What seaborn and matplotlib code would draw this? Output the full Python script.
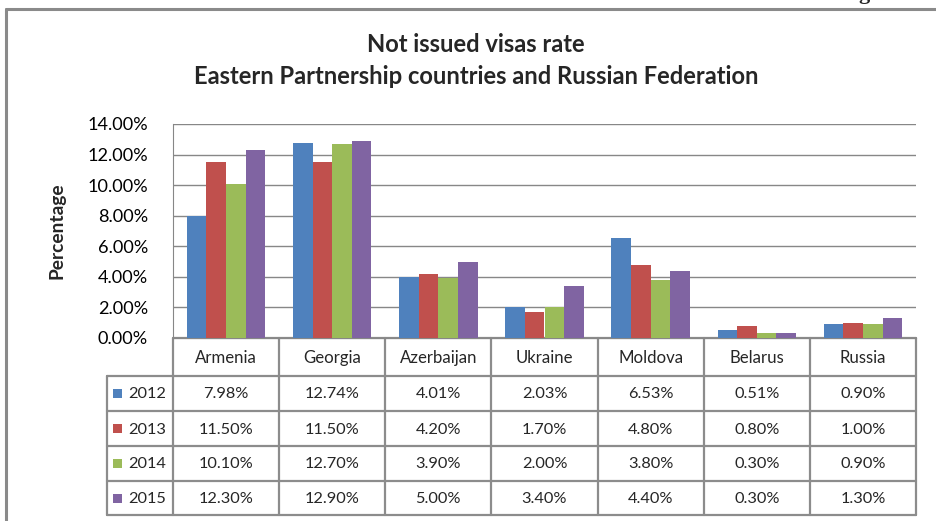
import matplotlib
matplotlib.use("Agg")
import matplotlib.pyplot as plt
import seaborn as sns
import pandas as pd

categories = ["Armenia", "Georgia", "Azerbaijan", "Ukraine", "Moldova", "Belarus", "Russia"]
years = ["2012", "2013", "2014", "2015"]
v2012 = [7.98, 12.74, 4.01, 2.03, 6.53, 0.51, 0.90]
v2013 = [11.50, 11.50, 4.20, 1.70, 4.80, 0.80, 1.00]
v2014 = [10.10, 12.70, 3.90, 2.00, 3.80, 0.30, 0.90]
v2015 = [12.30, 12.90, 5.00, 3.40, 4.40, 0.30, 1.30]
yticks = [0, 2, 4, 6, 8, 10, 12, 14]
colors = ["#4F81BD", "#C0504D", "#9BBB59", "#8064A2"]
title1 = "Not issued visas rate"
title2 = "Eastern Partnership countries and Russian Federation"

series = [v2012, v2013, v2014, v2015]
df = pd.DataFrame({
    "Country": categories * 4,
    "Year": [y for y in years for _ in categories],
    "Value": v2012 + v2013 + v2014 + v2015,
})

sns.set_style("white")
plt.rcParams["font.family"] = ["Lato", "DejaVu Sans"]

W, H = 936, 521
fig = plt.figure(figsize=(W / 100, H / 100), dpi=100)
fig.canvas.draw()
renderer = fig.canvas.get_renderer()


def fit_size(s, target_px, **kw):
    t = fig.text(0, 0, s, fontsize=10, **kw)
    w = t.get_window_extent(renderer).width
    t.remove()
    return 10 * target_px / w


fs_tick = fit_size("14.00%", 61)
fs_cell = fit_size("12.74%", 55)
fs_cat = fit_size("Armenia", 62)
fs_ylab = fit_size("Percentage", 97, fontweight="bold")
fs_title = fit_size(title2, 567, fontweight="bold")

# plot area in pixels
L, R, T, B = 173, 916, 124, 338
ax = fig.add_axes([L / W, 1 - B / H, (R - L) / W, (B - T) / H])
sns.barplot(data=df, x="Country", y="Value", hue="Year", palette=colors,
            width=0.74, ax=ax, legend=False, saturation=1, zorder=3,
            edgecolor="none", errorbar=None)
ax.set_xlim(-0.5, len(categories) - 0.5)
ax.set_ylim(0, 14)
ax.set_yticks(yticks)
ax.set_yticklabels([f"{t:.2f}%" for t in yticks], fontsize=fs_tick, color="black")
ax.tick_params(axis="y", length=0, pad=18)
ax.set_xticks([])
ax.set_xlabel("")
ax.set_ylabel("")
ax.yaxis.grid(True, color="#878787", lw=1)
ax.set_axisbelow(True)
for s in ["top", "right"]:
    ax.spines[s].set_visible(False)
ax.spines["left"].set_color("#878787")
ax.spines["bottom"].set_color("#878787")
ax.patch.set_alpha(0)

fig.text(57 / W, 1 - 231 / H, "Percentage", rotation=90, ha="center", va="center",
         fontsize=fs_ylab, fontweight="bold")

fig.canvas.draw()

# overlay for table and border
ov = fig.add_axes([0, 0, 1, 1], zorder=-1)
ov.set_xlim(0, W)
ov.set_ylim(H, 0)
ov.axis("off")


def xpx(xdata):
    return ax.transData.transform((xdata, 0))[0]


gc = "#8c8c8c"
lw = 1.6
bounds = [xpx(i - 0.5) for i in range(len(categories) + 1)]
row_edges = [B, 376, 411, 446, 481, 515]
rowhdr_left = 107

for bx in bounds:
    ov.plot([bx, bx], [B, row_edges[-1]], color=gc, lw=lw)
ov.plot([rowhdr_left, rowhdr_left], [row_edges[1], row_edges[-1]], color=gc, lw=lw)
ov.plot([bounds[0], bounds[-1]], [row_edges[0], row_edges[0]], color=gc, lw=lw)
for ye in row_edges[1:]:
    ov.plot([rowhdr_left, bounds[-1]], [ye, ye], color=gc, lw=lw)

for i, c in enumerate(categories):
    cx = (bounds[i] + bounds[i + 1]) / 2
    ov.text(cx, (row_edges[0] + row_edges[1]) / 2 + 1, c, ha="center", va="center", fontsize=fs_cat)
    for r, vals in enumerate(series):
        cy = (row_edges[r + 1] + row_edges[r + 2]) / 2 + 1
        ov.text(cx, cy, f"{vals[i]:.2f}%", ha="center", va="center", fontsize=fs_cell)

for r, y in enumerate(years):
    cy = (row_edges[r + 1] + row_edges[r + 2]) / 2
    ov.add_patch(plt.Rectangle((113, cy - 4.5), 9, 9, color=colors[r], lw=0))
    ov.text(128, cy + 1, y, ha="left", va="center", fontsize=fs_cell)

# outer frame
ov.plot([6, W], [9, 9], color="#8a8a8a", lw=2.2)
ov.plot([6, 6], [9, H], color="#8a8a8a", lw=2.2)

# cropped text fragment at the top (partially outside, as in the reference)
fig.text(858 / W, 1 + 1 / H, "g", ha="left", va="baseline", fontsize=16,
         fontweight="bold", family="Liberation Serif")

# title
fig.text(476 / W, 1 - 45 / H, title1, ha="center", va="center",
         fontsize=fs_title, fontweight="bold")
fig.text(476 / W, 1 - 76 / H, title2, ha="center", va="center",
         fontsize=fs_title, fontweight="bold")

fig.savefig("out.png", dpi=100)
